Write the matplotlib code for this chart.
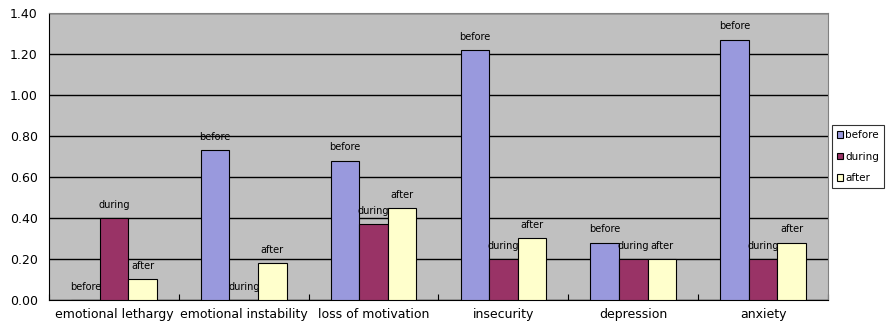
import numpy as np
import matplotlib
matplotlib.use("Agg")
import matplotlib.pyplot as plt

# 各症状の平均スコア
categories = ["emotional lethargy", "emotional instability", "loss of motivation",
              "insecurity", "depression", "anxiety"]
series_names = ["before", "during", "after"]
before = [0.00, 0.73, 0.68, 1.22, 0.28, 1.27]
during = [0.40, 0.00, 0.37, 0.20, 0.20, 0.20]
after = [0.10, 0.18, 0.45, 0.30, 0.20, 0.28]
yticks = [0.0, 0.2, 0.4, 0.6, 0.8, 1.0, 1.2, 1.4]

colors = ["#9999dd", "#993366", "#ffffcc"]

fig = plt.figure(figsize=(8.88, 3.26), dpi=100)
ax = fig.add_axes([0.0552, 0.0798, 0.8772, 0.8802])
ax.set_facecolor("#c0c0c0")

x = np.arange(len(categories))
w = 0.22
for i, (name, vals) in enumerate(zip(series_names, [before, during, after])):
    pos = x + (i - 1) * w
    ax.bar(pos, vals, width=w, color=colors[i], edgecolor="black", linewidth=0.8,
           label=name, zorder=3)
    # 棒の上に系列名を表示
    for px, v in zip(pos, vals):
        ax.annotate(name, (px, v), xytext=(0, 9.5), textcoords="offset points",
                    ha="center", va="center", fontsize=7)

ax.set_xlim(-0.5, len(categories) - 0.5)
ax.set_ylim(0, 1.4)
ax.set_yticks(yticks)
ax.set_yticklabels(["%.2f" % t for t in yticks], fontsize=9)
ax.yaxis.grid(True, color="black", linewidth=1.0, zorder=1)
ax.set_axisbelow(True)

# カテゴリ境界に目盛り、ラベルは中央
ax.set_xticks(np.arange(len(categories) + 1) - 0.5)
ax.set_xticklabels([])
ax.set_xticks(x, minor=True)
ax.set_xticklabels(categories, minor=True, fontsize=9)
ax.tick_params(axis="x", which="major", direction="in", length=4, color="black")
ax.tick_params(axis="x", which="minor", length=0, pad=6)
ax.tick_params(axis="y", length=0, pad=8)

for s in ["top", "right"]:
    ax.spines[s].set_color("#808080")
for s in ["left", "bottom"]:
    ax.spines[s].set_color("black")

leg = ax.legend(loc="center left", bbox_to_anchor=(1.005, 0.5), fontsize=7.5,
                frameon=True, fancybox=False, edgecolor="black",
                handlelength=0.6, handleheight=0.6, handletextpad=0.15,
                borderpad=0.5, borderaxespad=0, labelspacing=1.1)
leg.get_frame().set_linewidth(0.8)

fig.savefig("out.png", dpi=100)
